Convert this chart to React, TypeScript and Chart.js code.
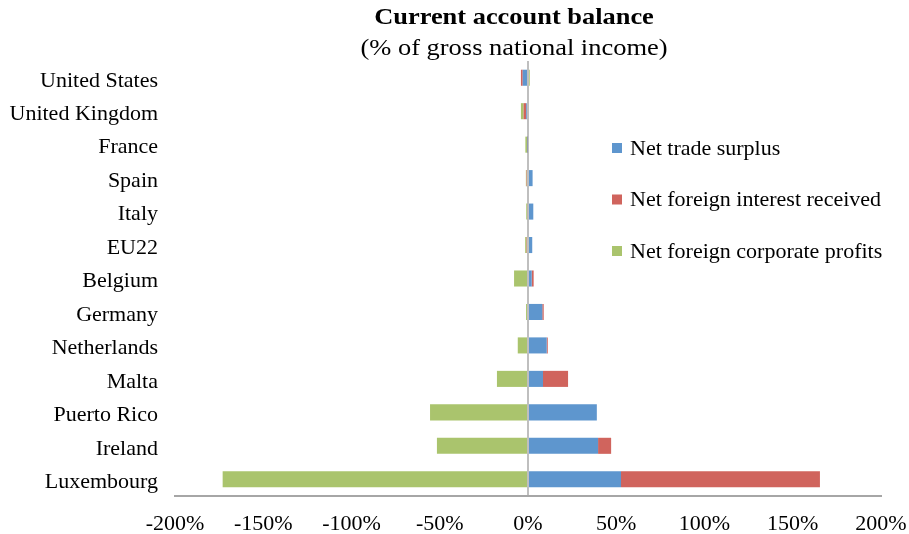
import React, { useEffect, useRef } from "react";
import { Chart, registerables } from "chart.js";

Chart.register(...registerables);

const categories = [
  "United States",
  "United Kingdom",
  "France",
  "Spain",
  "Italy",
  "EU22",
  "Belgium",
  "Germany",
  "Netherlands",
  "Malta",
  "Puerto Rico",
  "Ireland",
  "Luxembourg",
];

const netTradeSurplus = [-3, -1, -0.3, 2.6, 3, 2.4, 2.1, 8.1, 10.6, 8.5, 39, 39.7, 52.7];
const netForeignInterest = [-1, -1.5, -0.2, -0.8, -0.5, -0.8, 1.1, 0.8, 0.6, 14.2, 0, 7.4, 112.7];
const netForeignProfits = [1, -1.5, -1, -0.4, -0.5, -0.8, -7.9, -1.1, -5.8, -17.6, -55.5, -51.6, -173];

const xTicks = [-200, -150, -100, -50, 0, 50, 100, 150, 200];

const seriesNames = ["Net trade surplus", "Net foreign interest received", "Net foreign corporate profits"];
const seriesColors = ["#5E96CE", "#D0645D", "#AAC46D"];

const FONT = "'Liberation Serif', 'Times New Roman', serif";

export default function App() {
  const ref = useRef<HTMLCanvasElement | null>(null);

  useEffect(() => {
    document.body.style.margin = "0";
    const canvas = ref.current;
    if (!canvas) return;

    const overlay = {
      id: "overlay",
      afterDraw(chart: any) {
        const { ctx, chartArea } = chart;
        ctx.save();
        const cx = (chartArea.left + chartArea.right) / 2 - 14;
        ctx.fillStyle = "#000";
        ctx.textAlign = "center";
        ctx.textBaseline = "middle";

        ctx.save();
        ctx.translate(cx, 18);
        ctx.scale(1.1, 1);
        ctx.font = `bold 24px ${FONT}`;
        ctx.fillText("Current account balance", 0, 0);
        ctx.restore();

        ctx.save();
        ctx.translate(cx, 49);
        ctx.scale(1.15, 1);
        ctx.font = `23px ${FONT}`;
        ctx.fillText("(% of gross national income)", 0, 0);
        ctx.restore();

        // legend inside chart area
        ctx.textAlign = "left";
        ctx.font = `22px ${FONT}`;
        const lx = chartArea.left + 437;
        const ly0 = chartArea.top + 87;
        seriesNames.forEach((name, i) => {
          const y = ly0 + i * 51.5;
          ctx.fillStyle = seriesColors[i];
          ctx.fillRect(lx, y - 5, 10, 10);
          ctx.fillStyle = "#000";
          ctx.fillText(name, lx + 18, y + 1);
        });
        ctx.restore();
      },
    };

    const chart = new Chart(canvas, {
      type: "bar",
      data: {
        labels: categories,
        datasets: [
          { label: seriesNames[0], data: netTradeSurplus, backgroundColor: seriesColors[0] },
          { label: seriesNames[1], data: netForeignInterest, backgroundColor: seriesColors[1] },
          { label: seriesNames[2], data: netForeignProfits, backgroundColor: seriesColors[2] },
        ],
      },
      options: {
        indexAxis: "y",
        animation: false,
        responsive: false,
        maintainAspectRatio: false,
        datasets: { bar: { barPercentage: 0.48, categoryPercentage: 1 } },
        layout: { padding: { top: 61, right: 28, bottom: 0, left: 0 } },
        plugins: {
          legend: { display: false },
          title: { display: false },
          tooltip: { enabled: false },
        },
        scales: {
          x: {
            stacked: true,
            min: -200,
            max: 200,
            afterBuildTicks: (scale: any) => {
              scale.ticks = xTicks.map((v) => ({ value: v }));
            },
            afterFit: (scale: any) => {
              scale.height = 38;
              scale.paddingLeft = 0;
              scale.paddingRight = 0;
            },
            ticks: {
              callback: (v: any) => `${v}%`,
              color: "#000",
              font: { family: FONT, size: 22 },
              padding: 15,
              maxRotation: 0,
              autoSkip: false,
            },
            grid: {
              drawTicks: false,
              color: (c: any) => (c.tick && c.tick.value === 0 ? "#BFBFBF" : "rgba(0,0,0,0)"),
              lineWidth: 2,
            },
            border: { display: true, color: "#A6A6A6", width: 2 },
          },
          y: {
            stacked: true,
            afterFit: (scale: any) => {
              scale.width = 175;
            },
            ticks: {
              color: "#000",
              font: { family: FONT, size: 22 },
              padding: 17,
              labelOffset: 3,
              autoSkip: false,
            },
            grid: { display: false, drawTicks: false },
            border: { display: false },
          },
        },
      },
      plugins: [overlay],
    });

    return () => chart.destroy();
  }, []);

  return (
    <div style={{ position: "relative", width: 909, height: 534 }}>
      <canvas ref={ref} width={909} height={534} style={{ display: "block" }} />
    </div>
  );
}
